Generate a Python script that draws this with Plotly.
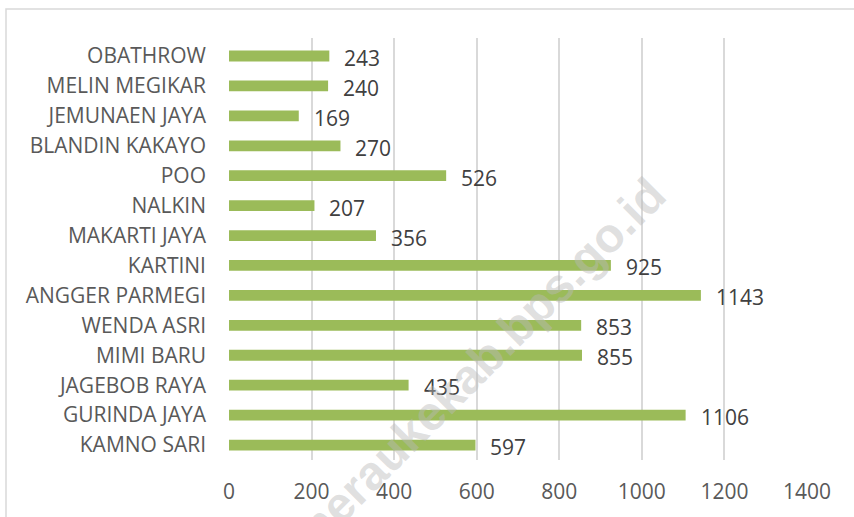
import plotly.graph_objects as go

categories = ["OBATHROW", "MELIN MEGIKAR", "JEMUNAEN JAYA", "BLANDIN KAKAYO", "POO",
              "NALKIN", "MAKARTI JAYA", "KARTINI", "ANGGER PARMEGI", "WENDA ASRI",
              "MIMI BARU", "JAGEBOB RAYA", "GURINDA JAYA", "KAMNO SARI"]
values = [243, 240, 169, 270, 526, 207, 356, 925, 1143, 853, 855, 435, 1106, 597]
x_ticks = [0, 200, 400, 600, 800, 1000, 1200, 1400]
watermark = "meraukekab.bps.go.id"

FONT = "Open Sans"
FS = 21
fig = go.Figure()
fig.add_trace(go.Bar(
    x=values, y=categories, orientation="h",
    marker=dict(color="#9BBB59", line=dict(width=0)),
    width=0.36, hoverinfo="x+y",
))

for c, v in zip(categories, values):
    fig.add_annotation(x=v, y=c, text=str(v), showarrow=False,
                       xanchor="left", yanchor="middle", xshift=13, yshift=-2,
                       font=dict(family=FONT, size=FS, color="#404040"))

fig.add_annotation(x=0.43, y=0.225, xref="paper", yref="paper", text=watermark,
                   showarrow=False, textangle=-45, xanchor="center", yanchor="middle",
                   font=dict(family="Liberation Sans", size=48, weight="bold",
                             color="rgba(185,185,185,0.45)"))

# outer border
fig.add_shape(type="rect", xref="paper", yref="paper",
              x0=(6 - 229) / 578, x1=(870 - 229) / 578,
              y0=(460 - 530) / 422, y1=(460 - 9) / 422,
              line=dict(color="#d9d9d9", width=1.5), layer="below")

fig.update_layout(
    width=854, height=517,
    margin=dict(l=229, r=47, t=38, b=57),
    paper_bgcolor="white", plot_bgcolor="white",
    showlegend=False,
    font=dict(family=FONT, size=FS, color="#595959"),
)
fig.update_xaxes(range=[0, 1400], tickvals=x_ticks, showgrid=True,
                 gridcolor="#d9d9d9", gridwidth=1.5, zeroline=False,
                 showline=False, ticklabelstandoff=17,
                 tickfont=dict(family=FONT, size=FS, color="#595959"))
fig.update_yaxes(autorange="reversed", showgrid=False, showline=False,
                 ticklabelstandoff=22,
                 tickfont=dict(family=FONT, size=FS, color="#595959"))

fig.write_html("out.html", config={"displayModeBar": False},
               post_script="document.body.style.margin='0';document.body.style.overflow='hidden';")
